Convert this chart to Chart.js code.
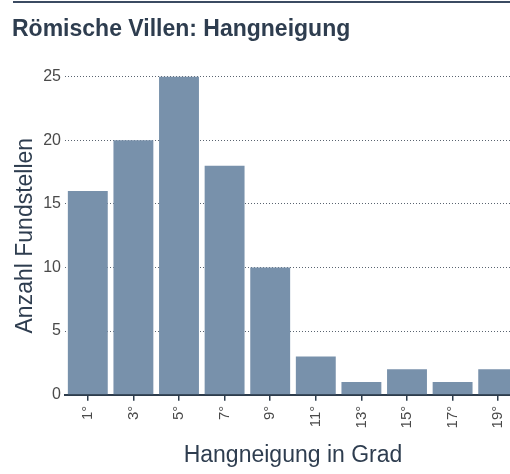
<!DOCTYPE html>
<html>
<head>
<meta charset="utf-8">
<script src="https://cdn.jsdelivr.net/npm/chart.js@4"></script>
<style>
html, body { margin: 0; padding: 0; background: #fff; overflow: hidden; }
#wrap { position: relative; width: 530px; height: 474px; }
#linie { position: absolute; left: 13px; top: 1px; width: 520px; height: 2px; background: #3b4b62; }
</style>
</head>
<body>
<div id="wrap">
<div id="linie"></div>
<canvas id="grafik" width="530" height="474"></canvas>
</div>
<script>
const kategorien = ["1°","3°","5°","7°","9°","11°","13°","15°","17°","19°"];
const anzahl = [16, 20, 25, 18, 10, 3, 1, 2, 1, 2];
const yTicks = [0, 5, 10, 15, 20, 25];

const schrift = "'Liberation Sans', Arial, sans-serif";

new Chart(document.getElementById("grafik"), {
type: "bar",
data: {
labels: kategorien,
datasets: [{
label: "Fundstellen",
data: anzahl,
backgroundColor: "#7891ab",
barPercentage: 1,
categoryPercentage: 0.875
}]
},
options: {
responsive: false,
animation: false,
layout: { padding: { left: 12, top: 7, right: 9, bottom: 0 } },
plugins: {
legend: { display: false },
tooltip: { enabled: false },
title: {
display: true,
text: "Römische Villen: Hangneigung",
align: "start",
color: "#2e3d4f",
font: { family: schrift, size: 23, weight: "bold" },
padding: { top: 9, bottom: 33 }
}
},
scales: {
x: {
offset: true,
grid: { display: true, offset: false, drawOnChartArea: false, drawTicks: true, tickLength: 6, color: "#2d3c4c", lineWidth: 1.5 },
border: { display: true, color: "#2d3c4c", width: 2 },
ticks: { color: "#4a4a4a", font: { family: schrift, size: 15 }, minRotation: 90, maxRotation: 90, padding: 5 },
title: { display: true, text: "Hangneigung in Grad", color: "#2e3d4f", font: { family: schrift, size: 23 }, padding: { top: 8, bottom: 5 } }
},
y: {
min: 0,
max: 25,
z: 1,
afterBuildTicks: s => { s.ticks = yTicks.map(v => ({ value: v })); },
afterFit: s => { s.width = 53; },
grid: { drawTicks: false, color: c => c.tick && c.tick.value === 0 ? "rgba(0,0,0,0)" : "#5a6470", lineWidth: 1 },
border: { display: false, dash: [1, 2] },
ticks: { color: "#4a4a4a", font: { family: schrift, size: 16 }, padding: 4 },
title: { display: true, text: "Anzahl Fundstellen", color: "#2e3d4f", font: { family: schrift, size: 23 }, padding: { top: 0, bottom: 2 } }
}
}
}
});
</script>
</body>
</html>
